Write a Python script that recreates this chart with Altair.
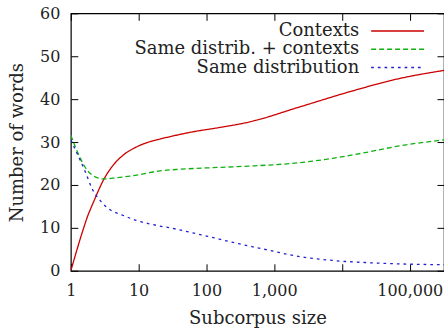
import altair as alt
import pandas as pd

series_names = ["Contexts", "Same distrib. + contexts", "Same distribution"]
colors = ["#cc0000", "#10b010", "#2020d0"]
dashes = [[1, 0], [5, 3], [2.7, 4]]

ctx_x = [1, 1.54, 1.73, 2.17, 3.04, 4.26, 5.97, 9.4, 14.8, 20.7, 64, 158, 436, 2390, 12800, 70000, 320000]
ctx_y = [0, 9.9, 12.3, 16.1, 21.2, 24.7, 27.0, 28.9, 30.1, 30.7, 32.4, 33.4, 34.7, 38.2, 41.7, 44.8, 46.7]

sdc_x = [1, 1.38, 1.73, 2.29, 3.04, 4.77, 9.4, 20.7, 36, 158, 436, 2390, 7300, 23000, 70000, 320000]
sdc_y = [31.6, 26.2, 23.5, 21.9, 21.4, 21.7, 22.3, 23.3, 23.6, 24.1, 24.4, 25.2, 26.2, 27.6, 29.1, 30.5]

sd_x = [1, 1.30, 1.63, 2.05, 2.8, 3.8, 5.5, 9.4, 14.8, 36, 100, 300, 770, 2390, 7300, 23000, 70000, 320000]
sd_y = [30.5, 26.6, 23.1, 19.2, 16.1, 14.2, 13.1, 11.7, 10.9, 9.7, 8.1, 6.3, 4.9, 3.3, 2.4, 1.9, 1.6, 1.4]

x_ticks = [1, 10, 100, 1000, 10000, 100000]
y_ticks = [0, 10, 20, 30, 40, 50, 60]

rows = []
for name, xs, ys in zip(series_names, [ctx_x, sdc_x, sd_x], [ctx_y, sdc_y, sd_y]):
    for i, (a, b) in enumerate(zip(xs, ys)):
        rows.append({"size": a, "words": b, "series": name, "order": i})
df = pd.DataFrame(rows)

FONT = "DejaVu Serif"

xscale = alt.Scale(type="log", domain=[1, 320000], nice=False)
yscale = alt.Scale(domain=[0, 60], nice=False)

legend = alt.Legend(
    title=None, orient="none", legendX=271, legendY=8.7,
    symbolType="M4.2,0H14.8", symbolSize=100, symbolStrokeWidth=1.3,
    labelFont=FONT, labelFontSize=18, labelColor="#222222",
    labelAlign="right", labelOffset=0, padding=0, rowPadding=0.3,
    labelLimit=500, symbolOffset=0,
)

lines = alt.Chart(df).mark_line(strokeWidth=1.3, interpolate="monotone", clip=True).encode(
    x=alt.X("size:Q", scale=xscale, axis=alt.Axis(
        orient="bottom", values=x_ticks,
        labelExpr="datum.value == 10000 ? '' : format(datum.value, ',')",
        title="Subcorpus size", offset=-7, tickSize=7, domain=False, grid=False,
        labelPadding=11.4, labelFlush=False, labelOverlap=False,
        labelFont=FONT, labelFontSize=16, labelColor="#222222",
        titleFont=FONT, titleFontSize=18, titleFontWeight="normal", titleColor="#222222",
        titleY=60, titleBaseline="alphabetic", tickColor="black", tickWidth=1)),
    y=alt.Y("words:Q", scale=yscale, axis=alt.Axis(
        orient="left", values=y_ticks, title="Number of words",
        offset=-7, tickSize=7, domain=False, grid=False, labelPadding=11,
        labelFont=FONT, labelFontSize=16, labelColor="#222222",
        titleFont=FONT, titleFontSize=18, titleFontWeight="normal", titleColor="#222222",
        titleX=-55, titleY=129, titleAngle=-90, titleBaseline="alphabetic",
        titleAlign="center", tickColor="black", tickWidth=1)),
    color=alt.Color("series:N", scale=alt.Scale(domain=series_names, range=colors), legend=legend),
    strokeDash=alt.StrokeDash("series:N", scale=alt.Scale(domain=series_names, range=dashes), legend=legend),
    order="order:Q",
)

frame_axes = alt.Chart(df).mark_line(opacity=0).encode(
    x=alt.X("size:Q", scale=xscale, axis=alt.Axis(
        orient="top", values=x_ticks, labels=False, title="", offset=-7, tickSize=7,
        domain=False, grid=False, tickColor="black", tickWidth=1)),
    y=alt.Y("words:Q", scale=yscale, axis=alt.Axis(
        orient="right", values=y_ticks, labels=False, title="", offset=-7, tickSize=7,
        domain=False, grid=False, tickColor="black", tickWidth=1)),
    detail="series:N",
)

chart = alt.layer(lines, frame_axes).resolve_axis(x="independent", y="independent").properties(
    width=374, height=258,
    autosize=alt.AutoSizeParams(type="none"),
    padding={"left": 71, "top": 13, "right": 0, "bottom": 59},
    background="white",
).configure_view(stroke="black", strokeWidth=1.2)

chart.save("out.html", embed_options={"renderer": "svg", "actions": False})
